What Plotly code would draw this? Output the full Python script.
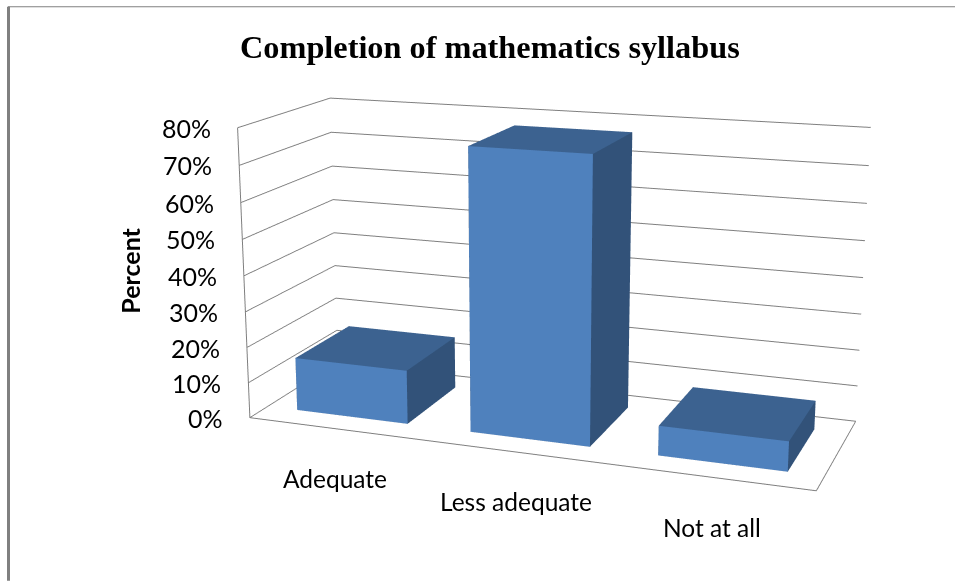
import plotly.graph_objects as go

categories = ["Adequate", "Less adequate", "Not at all"]
percent = [15, 77, 8]
percent_ticks = [0, 10, 20, 30, 40, 50, 60, 70, 80]
category_pos = [0.5, 1.5, 2.5]
bar_half = 0.323
bar_depth = (0.19, 0.81)

FIG_W, FIG_H = 955, 1452
OFF = 435.75
def py(y): return 1 - (y + OFF) / FIG_H
def px(x): return x / FIG_W

C_FRONT, C_TOP, C_SIDE = "#4F81BD", "#3C6290", "#325279"
X, Y, Z, I, J, K, FC = [], [], [], [], [], [], []
for c, v in zip(category_pos, percent):
    x0, x1, y0, y1 = c - bar_half, c + bar_half, bar_depth[0], bar_depth[1]
    b = len(X)
    for zz in (0, v):
        X += [x0, x1, x1, x0]; Y += [y0, y0, y1, y1]; Z += [zz] * 4
    quads = [((0, 1, 5, 4), C_FRONT), ((1, 2, 6, 5), C_SIDE), ((4, 5, 6, 7), C_TOP),
             ((3, 0, 4, 7), C_SIDE), ((2, 3, 7, 6), C_SIDE), ((0, 1, 2, 3), C_SIDE)]
    for (p, q, r, s), col in quads:
        I += [b + p, b + p]; J += [b + q, b + r]; K += [b + r, b + s]; FC += [col, col]

fig = go.Figure(go.Mesh3d(
    x=X, y=Y, z=Z, i=I, j=J, k=K, facecolor=FC, flatshading=True,
    lighting=dict(ambient=1, diffuse=0, specular=0, roughness=1, fresnel=0),
    hoverinfo="skip", showscale=False))

GRID = "#7F7F7F"
off_axis = dict(showgrid=False, zeroline=False, showticklabels=False, ticks="", title="",
                showline=True, linecolor=GRID, linewidth=2, showbackground=False, showspikes=False)
tick_font = dict(family="Lato", size=25, color="#000000")
cat_font = dict(family="Lato", size=24.5, color="#000000")
notes = [dict(x=0, y=0, z=t, text=f"{t}%", showarrow=False, xanchor="right", yanchor="middle",
              xshift=-25, font=tick_font) for t in percent_ticks]
notes += [dict(x=c, y=0, z=0, text=n, showarrow=False, xanchor="center", yanchor="middle",
               yshift=-50, xshift=0, font=cat_font) for c, n in zip(category_pos, categories)]

fig.update_layout(
    width=FIG_W, height=FIG_H, autosize=False, showlegend=False,
    margin=dict(l=0, r=0, t=0, b=0, pad=0), paper_bgcolor="white",
    scene=dict(
        domain=dict(x=[0, 1], y=[0, 1]),
        aspectmode="manual", aspectratio=dict(x=1.3, y=0.458, z=0.671),
        camera=dict(eye=dict(x=1.246, y=-3.575, z=0.972), center=dict(x=-0.112, y=-0.164, z=0),
                    up=dict(x=0.152, y=-0.365, z=1), projection=dict(type="perspective")),
        xaxis=dict(range=[0, 3], **off_axis),
        yaxis=dict(range=[0, 1], **off_axis),
        zaxis=dict(range=[0, 80], tickvals=percent_ticks, showgrid=True, gridcolor=GRID, gridwidth=2,
                   zeroline=False, showticklabels=False, ticks="", title="", showline=True,
                   linecolor=GRID, linewidth=2, showbackground=False, showspikes=False),
        annotations=notes),
    annotations=[
        dict(x=px(490), y=py(47), xref="paper", yref="paper", xanchor="center", yanchor="middle",
             text="<b>Completion of mathematics syllabus</b>", showarrow=False,
             font=dict(family="Liberation Serif", size=32.3, color="#000")),
        dict(x=px(130), y=py(271), xref="paper", yref="paper", xanchor="center", yanchor="middle",
             text="<b>Percent</b>", textangle=-90, showarrow=False,
             font=dict(family="Lato", size=25, color="#000")),
    ],
    shapes=[
        dict(type="line", xref="paper", yref="paper", x0=px(8), x1=px(955), y0=py(7), y1=py(7),
             line=dict(color="#808080", width=1)),
        dict(type="line", xref="paper", yref="paper", x0=px(8.5), x1=px(8.5), y0=py(7), y1=py(581),
             line=dict(color="#808080", width=3)),
    ])

post = ("var gd=document.getElementById('{plot_id}');gd.style.position='absolute';gd.style.left='0';"
        "gd.style.top='-435.75px';document.body.style.margin='0';document.body.style.overflow='hidden';"
        "document.documentElement.style.overflow='hidden';")
fig.write_html("out.html", post_script=post)
